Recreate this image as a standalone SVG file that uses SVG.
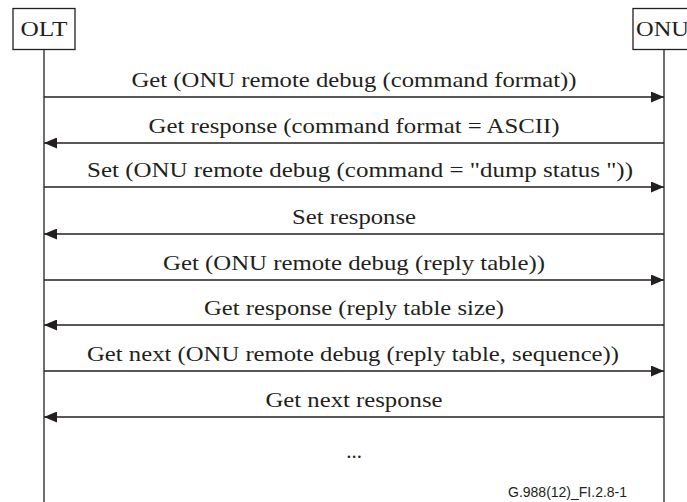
<svg xmlns="http://www.w3.org/2000/svg" width="687" height="502" viewBox="0 0 687 502">
<style>
.box{fill:#fff;stroke:#231f20;stroke-width:1.3}
.life{stroke:#231f20;stroke-width:1.3}
.msg{stroke:#231f20;stroke-width:1.3;fill:none}
.t{font-family:"Liberation Serif",serif;font-size:21px;fill:#231f20;text-anchor:middle}
.n{font-family:"Liberation Serif",serif;font-size:21px;fill:#231f20}
.f{font-family:"Liberation Sans",sans-serif;font-size:14px;fill:#231f20}
</style>
<defs>
<marker id="ah" markerWidth="13" markerHeight="11" refX="13" refY="5.5" orient="auto" markerUnits="userSpaceOnUse">
<path d="M0,0 L13,5.5 L0,11 Z" fill="#231f20"/>
</marker>
</defs>
<g id="OLT">
<rect class="box" x="13" y="8.5" width="62" height="41"/>
<text class="n" x="44" y="36" text-anchor="middle" textLength="47" lengthAdjust="spacingAndGlyphs">OLT</text>
<line class="life" x1="44" y1="50" x2="44" y2="502"/>
</g>
<g id="ONU">
<rect class="box" x="633" y="8.5" width="60" height="41"/>
<text class="n" x="636" y="36" textLength="53" lengthAdjust="spacingAndGlyphs">ONU</text>
<line class="life" x1="664" y1="50" x2="664" y2="502"/>
</g>
<g id="connectors">
<line class="msg" x1="44" y1="97" x2="664" y2="97" marker-end="url(#ah)"/>
<line class="msg" x1="664" y1="143" x2="44" y2="143" marker-end="url(#ah)"/>
<line class="msg" x1="44" y1="187" x2="664" y2="187" marker-end="url(#ah)"/>
<line class="msg" x1="664" y1="234" x2="44" y2="234" marker-end="url(#ah)"/>
<line class="msg" x1="44" y1="280" x2="664" y2="280" marker-end="url(#ah)"/>
<line class="msg" x1="664" y1="325" x2="44" y2="325" marker-end="url(#ah)"/>
<line class="msg" x1="44" y1="371" x2="664" y2="371" marker-end="url(#ah)"/>
<line class="msg" x1="664" y1="417" x2="44" y2="417" marker-end="url(#ah)"/>
</g>
<g id="labels">
<text class="t" x="354" y="87" textLength="445" lengthAdjust="spacingAndGlyphs">Get (ONU remote debug (command format))</text>
<text class="t" x="354" y="133" textLength="411" lengthAdjust="spacingAndGlyphs">Get response (command format = ASCII)</text>
<text class="t" x="360" y="177" textLength="546" lengthAdjust="spacingAndGlyphs">Set (ONU remote debug (command = "dump status "))</text>
<text class="t" x="354" y="224" textLength="124" lengthAdjust="spacingAndGlyphs">Set response</text>
<text class="t" x="354" y="270" textLength="382" lengthAdjust="spacingAndGlyphs">Get (ONU remote debug (reply table))</text>
<text class="t" x="354" y="315" textLength="300" lengthAdjust="spacingAndGlyphs">Get response (reply table size)</text>
<text class="t" x="353" y="361" textLength="532" lengthAdjust="spacingAndGlyphs">Get next (ONU remote debug (reply table, sequence))</text>
<text class="t" x="354" y="407" textLength="177" lengthAdjust="spacingAndGlyphs">Get next response</text>
<text class="t" x="354" y="458">...</text>
<text class="f" x="508" y="497">G.988(12)_FI.2.8-1</text>
</g>
</svg>
